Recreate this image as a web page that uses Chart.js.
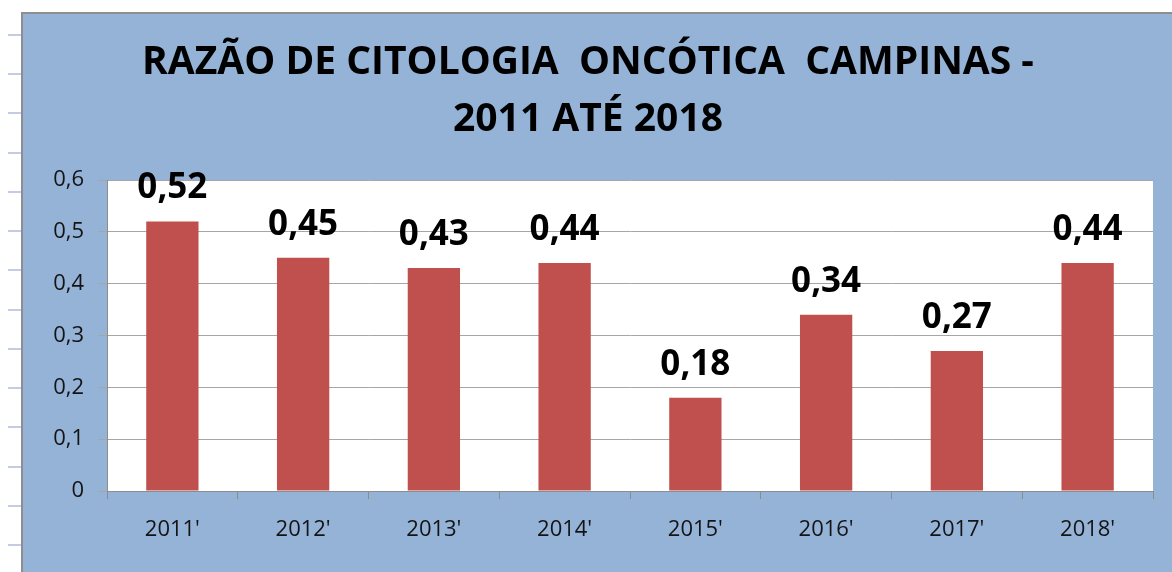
<!DOCTYPE html>
<html>
<head>
<meta charset="utf-8">
<script src="https://cdn.jsdelivr.net/npm/chart.js@4"></script>
<style>
  html, body { margin: 0; padding: 0; background: #ffffff; width: 1172px; height: 572px; overflow: hidden; }
  #strip { position: absolute; left: 8px; top: 34px; width: 13px; height: 522px;
    background: repeating-linear-gradient(to bottom, #c3cce4 0px, #c3cce4 2px, transparent 2px, transparent 39.25px); }
  #box { position: absolute; left: 21px; top: 12px; width: 1160px; height: 570px;
    background: #95B3D7; border-top: 2px solid #8e8e8e; border-left: 2px solid #8e8e8e; }
  #c { position: absolute; left: 0; top: 0; }
</style>
</head>
<body>
<div id="strip"></div>
<div id="box"><canvas id="c" width="1149" height="558"></canvas></div>
<script>
const categories = ["2011'", "2012'", "2013'", "2014'", "2015'", "2016'", "2017'", "2018'"];
const values = [0.52, 0.45, 0.43, 0.44, 0.18, 0.34, 0.27, 0.44];
const yTickLabels = ['0', '0,1', '0,2', '0,3', '0,4', '0,5', '0,6'];
const titleLines = ['RAZÃO DE CITOLOGIA  ONCÓTICA  CAMPINAS -', '2011 ATÉ 2018'];

const FONT = "'Open Sans', 'Liberation Sans', sans-serif";

const plotBg = {
  id: 'plotBg',
  beforeDraw(chart) {
    const a = chart.chartArea, ctx = chart.ctx;
    ctx.save();
    ctx.fillStyle = '#ffffff';
    ctx.fillRect(a.left, a.top, a.right - a.left, a.bottom - a.top);
    ctx.restore();
  }
};

const barLabels = {
  id: 'barLabels',
  afterDatasetsDraw(chart) {
    const ctx = chart.ctx;
    const meta = chart.getDatasetMeta(0);
    ctx.save();
    ctx.fillStyle = '#000000';
    ctx.font = "bold 35px " + FONT;
    ctx.textAlign = 'center';
    ctx.textBaseline = 'alphabetic';
    meta.data.forEach((bar, i) => {
      const v = chart.data.datasets[0].data[i];
      ctx.fillText(v.toFixed(2).replace('.', ','), bar.x, bar.y - 23);
    });
    ctx.restore();
  }
};

new Chart(document.getElementById('c'), {
  type: 'bar',
  data: {
    labels: categories,
    datasets: [{
      data: values,
      backgroundColor: '#C0504D',
      borderWidth: 0,
      categoryPercentage: 1.0,
      barPercentage: 0.4
    }]
  },
  options: {
    responsive: false,
    animation: false,
    devicePixelRatio: 1,
    layout: { padding: { left: 0, right: 19, top: 0, bottom: 0 } },
    plugins: {
      legend: { display: false },
      tooltip: { enabled: false },
      title: {
        display: true,
        text: titleLines,
        color: '#000000',
        font: { family: FONT, size: 39, weight: 'bold', lineHeight: '57px' },
        padding: { top: 20, bottom: 32 }
      }
    },
    scales: {
      x: {
        afterFit(scale) { scale.height = 81; },
        grid: { display: true, drawOnChartArea: false, drawTicks: true, tickLength: 8, color: '#8c8c8c', offset: true },
        border: { display: true, color: '#8c8c8c', width: 1 },
        ticks: { color: '#141414', font: { family: FONT, size: 22 }, padding: 18, maxRotation: 0 }
      },
      y: {
        min: 0, max: 0.6,
        afterFit(scale) { scale.width = 84; },
        grid: { color: '#a6a6a6', tickLength: 9, drawTicks: true },
        border: { display: true, color: '#8c8c8c', width: 1 },
        ticks: {
          stepSize: 0.1,
          color: '#141414',
          font: { family: FONT, size: 22 },
          padding: 14,
          callback: (v, i) => yTickLabels[i]
        }
      }
    }
  },
  plugins: [plotBg, barLabels]
});
</script>
</body>
</html>
